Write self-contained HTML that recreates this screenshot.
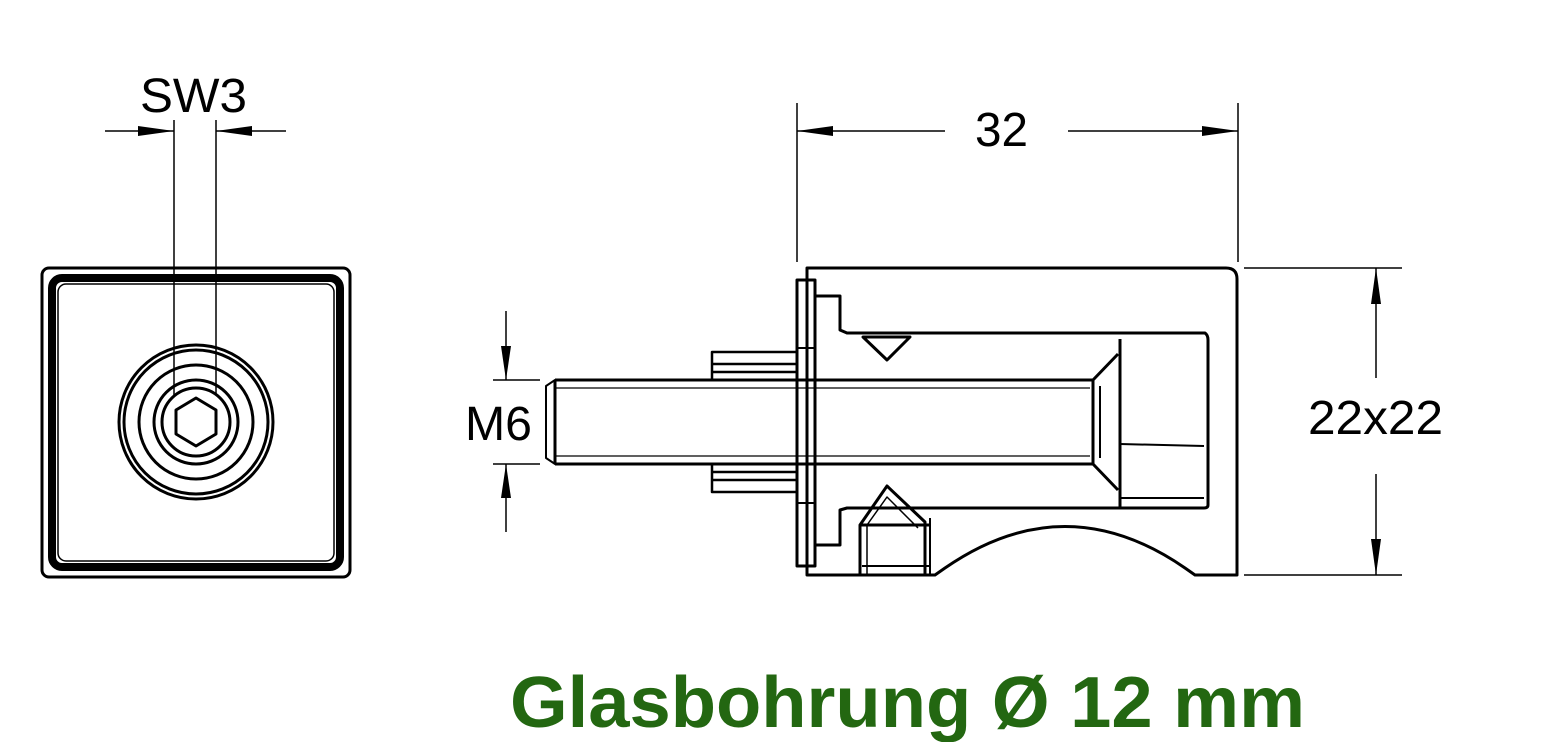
<!DOCTYPE html>
<html><head><style>
html,body{margin:0;padding:0;background:#fff;}
svg{display:block;}
text{font-family:"Liberation Sans",Arial,sans-serif;}
</style></head><body>
<svg width="1549" height="742" viewBox="0 0 1549 742" xmlns="http://www.w3.org/2000/svg">
<g fill="none" stroke="#000" stroke-linejoin="round">
<!-- Left view -->
<rect x="42" y="268" width="308" height="309" rx="7" stroke-width="3"/>
<rect x="52" y="278" width="288" height="289" rx="10" stroke-width="8"/>
<rect x="58" y="284" width="276" height="277" rx="8" stroke-width="1.5"/>
<g stroke-width="3">
<circle cx="196" cy="422" r="77"/>
<circle cx="196" cy="422" r="72"/>
<circle cx="196" cy="422" r="57"/>
<circle cx="196" cy="422" r="42"/>
<circle cx="196" cy="422" r="34"/>
<polygon points="196,398 216,410 216,434 196,446 176,434 176,410"/>
</g>
<g stroke-width="1.5">
<line x1="174" y1="120" x2="174" y2="395"/>
<line x1="216" y1="120" x2="216" y2="395"/>
<line x1="105" y1="131" x2="174" y2="131"/>
<line x1="216" y1="131" x2="286" y2="131"/>
</g>
<!-- 32 dim -->
<g stroke-width="1.5">
<line x1="797" y1="103" x2="797" y2="262"/>
<line x1="1238" y1="103" x2="1238" y2="262"/>
<line x1="797" y1="131" x2="945" y2="131"/>
<line x1="1068" y1="131" x2="1238" y2="131"/>
<!-- 22x22 -->
<line x1="1244" y1="268" x2="1402" y2="268"/>
<line x1="1244" y1="575" x2="1402" y2="575"/>
<line x1="1376" y1="268" x2="1376" y2="378"/>
<line x1="1376" y1="474" x2="1376" y2="575"/>
<!-- M6 -->
<line x1="506" y1="311" x2="506" y2="380"/>
<line x1="506" y1="464" x2="506" y2="532"/>
<line x1="493" y1="380" x2="540" y2="380"/>
<line x1="493" y1="464" x2="540" y2="464"/>
</g>
<!-- Body -->
<path d="M807,268 H1226 Q1237,268 1237,279 V575 H1195 L1185,568 Q1065,485 945,568 L935,575 H807 Z" stroke-width="3"/>
<rect x="797" y="280" width="18" height="286" stroke-width="3"/>
<line x1="797" y1="348" x2="815" y2="348" stroke-width="2"/>
<line x1="797" y1="503" x2="815" y2="503" stroke-width="2"/>
<path d="M815,296 H840 V330 L847,333 H1205 Q1208,335 1208,340 V505 Q1208,508 1204,508 H1120" stroke-width="3"/>
<path d="M815,545 H840 V510 L847,508 H1120" stroke-width="3"/>
<line x1="1120" y1="339" x2="1120" y2="508" stroke-width="3"/>
<line x1="1120" y1="444" x2="1204" y2="446" stroke-width="2"/>
<line x1="1120" y1="498" x2="1204" y2="498" stroke-width="2"/>
<polygon points="863,337 910,337 887,360" stroke-width="3"/>
<!-- bolt -->
<path d="M555,380 H1093 L1118,354 M1093,464 L1118,490 M1093,380 V464" stroke-width="3"/>
<path d="M555,380 L546,386 V458 L555,464 Z" stroke-width="2"/>
<line x1="555" y1="380" x2="555" y2="464" stroke-width="3"/>
<line x1="555" y1="464" x2="1093" y2="464" stroke-width="3"/>
<line x1="555" y1="388" x2="1090" y2="388" stroke-width="1.2"/>
<line x1="555" y1="456" x2="1090" y2="456" stroke-width="1.2"/>
<line x1="1100" y1="386" x2="1100" y2="458" stroke-width="2"/>
<!-- washer -->
<path d="M797,352 H712 V380 M712,364 H797 M712,372 H797" stroke-width="2.5"/>
<path d="M797,492 H712 V464 M712,480 H797 M712,472 H797" stroke-width="2.5"/>
<!-- grub screw -->
<path d="M860,575 V525 L887,486 L925,522 V575" stroke-width="3"/>
<path d="M867,575 V525 L887,497 L918,528" stroke-width="1.5"/>
<line x1="860" y1="525" x2="930" y2="525" stroke-width="3"/>
<line x1="862" y1="566" x2="930" y2="566" stroke-width="2"/>
<line x1="930" y1="518" x2="930" y2="575" stroke-width="2"/>
</g>
<g fill="#000">
<polygon points="174,131 138,126 138,136"/>
<polygon points="216,131 252,126 252,136"/>
<polygon points="797,131 833,126 833,136"/>
<polygon points="1238,131 1202,126 1202,136"/>
<polygon points="1376,268 1371,304 1381,304"/>
<polygon points="1376,575 1371,539 1381,539"/>
<polygon points="506,380 501,346 511,346"/>
<polygon points="506,464 501,498 511,498"/>
</g>
<text x="140" y="112" font-size="48" textLength="107" lengthAdjust="spacingAndGlyphs">SW3</text>
<text x="975" y="146" font-size="48" textLength="53" lengthAdjust="spacingAndGlyphs">32</text>
<text x="1308" y="434" font-size="48" textLength="135" lengthAdjust="spacingAndGlyphs">22x22</text>
<text x="465" y="440" font-size="48" textLength="67" lengthAdjust="spacingAndGlyphs">M6</text>
<text x="510" y="727" font-size="72" font-weight="bold" fill="#236711" textLength="795" lengthAdjust="spacingAndGlyphs">Glasbohrung Ø 12 mm</text>
</svg>
</body></html>
